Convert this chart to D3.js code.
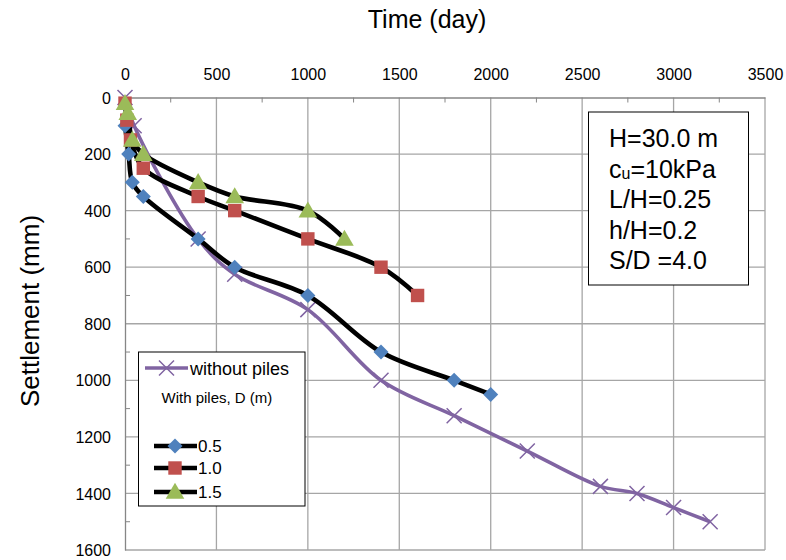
<!DOCTYPE html>
<html><head><meta charset="utf-8">
<script src="https://cdn.jsdelivr.net/npm/d3@7"></script>
<style>
body{margin:0;background:#fff}
svg{display:block}
text{font-family:"Liberation Sans",Arial,sans-serif;fill:#000}
</style>
</head><body>
<svg id="chart" width="786" height="560"></svg>
<script>
// ---- data ----
const xTicks = [0, 500, 1000, 1500, 2000, 2500, 3000, 3500];
const yTicks = [0, 200, 400, 600, 800, 1000, 1200, 1400, 1600];
const xMinor = [250, 750, 1250, 1750, 2250, 2750, 3250];
const yMinor = [100, 300, 500, 700, 900, 1100, 1300, 1500];

const noPilesDays   = [0, 50, 400, 600, 1000, 1400, 1800, 2200, 2600, 2800, 3000, 3200];
const noPilesSettle = [0, 100, 500, 625, 750, 1000, 1125, 1250, 1375, 1400, 1450, 1500];

const d05Days   = [0, 20, 40, 100, 400, 600, 1000, 1400, 1800, 2000];
const d05Settle = [100, 200, 300, 350, 500, 600, 700, 900, 1000, 1050];

const d10Days   = [0, 10, 30, 100, 400, 600, 1000, 1400, 1600];
const d10Settle = [20, 80, 150, 250, 350, 400, 500, 600, 700];

const d15Days   = [0, 15, 40, 100, 400, 600, 1000, 1200];
const d15Settle = [20, 55, 150, 200, 300, 350, 400, 500];

const infoLines = ["H=30.0 m", "cu=10kPa", "L/H=0.25", "h/H=0.2", "S/D =4.0"];
const legendPiles = ["0.5", "1.0", "1.5"];

// ---- chart ----
const svg = d3.select("#chart");
const x = d3.scaleLinear().domain([0, 3500]).range([125, 765]);
const y = d3.scaleLinear().domain([0, 1600]).range([97.5, 550]);

const gridColor = "#a6a6a6";
svg.append("g").selectAll("line").data(xTicks.slice(1)).join("line")
  .attr("x1", d => x(d)).attr("x2", d => x(d))
  .attr("y1", y(0)).attr("y2", y(1600))
  .attr("stroke", gridColor).attr("stroke-width", 1.3);
svg.append("g").selectAll("line").data(yTicks.slice(1)).join("line")
  .attr("x1", x(0)).attr("x2", x(3500))
  .attr("y1", d => y(d)).attr("y2", d => y(d))
  .attr("stroke", gridColor).attr("stroke-width", 1.3);

const xAxis = d3.axisTop(x).tickValues(xTicks).tickSize(0).tickPadding(0).tickFormat(d3.format("d"));
const gx = svg.append("g").attr("transform", `translate(0,${y(0)})`).call(xAxis);
gx.select(".domain").attr("stroke", "#868686").attr("stroke-width", 1.3);
gx.selectAll("text").attr("y", -18).attr("dy", 0).style("font-size", "16px").style("font-family", '"Liberation Sans",Arial,sans-serif');

const yAxis = d3.axisLeft(y).tickValues(yTicks).tickSize(0).tickPadding(0).tickFormat(d3.format("d"));
const gy = svg.append("g").attr("transform", `translate(${x(0)},0)`).call(yAxis);
gy.select(".domain").attr("stroke", "#868686").attr("stroke-width", 1.3);
gy.selectAll("text").attr("x", -14).attr("dy", "0.35em").style("font-size", "16px").style("font-family", '"Liberation Sans",Arial,sans-serif');

svg.append("g").selectAll("line").data(xMinor).join("line")
  .attr("x1", d => x(d)).attr("x2", d => x(d))
  .attr("y1", y(0)).attr("y2", y(0) + 5)
  .attr("stroke", "#868686").attr("stroke-width", 1);
svg.append("g").selectAll("line").data(yMinor).join("line")
  .attr("x1", x(0)).attr("x2", x(0) + 5)
  .attr("y1", d => y(d)).attr("y2", d => y(d))
  .attr("stroke", "#868686").attr("stroke-width", 1);

svg.append("text").attr("x", 427).attr("y", 28).attr("text-anchor", "middle")
  .style("font-size", "25px").text("Time (day)");
svg.append("text").attr("transform", "translate(39,311) rotate(-90)").attr("text-anchor", "middle")
  .style("font-size", "26px").text("Settlement (mm)");

const line = d3.line().x(d => x(d[0])).y(d => y(d[1])).curve(d3.curveCatmullRom.alpha(0.5));
const zip = (a, b) => a.map((v, i) => [v, b[i]]);

const purple = "#8064A2";
const blue = "#4F81BD", red = "#C0504D", green = "#9BBB59";

function xMark(g, cx, cy, s) {
  g.append("path").attr("d", `M${cx - s},${cy - s}L${cx + s},${cy + s}M${cx - s},${cy + s}L${cx + s},${cy - s}`)
    .attr("stroke", purple).attr("stroke-width", 1.5).attr("fill", "none");
}
const sym = {
  diamond: () => "M0,-7.5L7.5,0L0,7.5L-7.5,0Z",
  square: d3.symbol().type(d3.symbolSquare).size(180),
  triangle: d3.symbol().type(d3.symbolTriangle).size(150)
};

const np = zip(noPilesDays, noPilesSettle);
svg.append("path").datum(np).attr("d", line).attr("fill", "none")
  .attr("stroke", purple).attr("stroke-width", 3.6).attr("stroke-linejoin", "round");
const npg = svg.append("g");
np.forEach(p => xMark(npg, x(p[0]), y(p[1]), 7.5));

const series = [
  { d: zip(d05Days, d05Settle), c: blue, s: "diamond" },
  { d: zip(d10Days, d10Settle), c: red, s: "square" },
  { d: zip(d15Days, d15Settle), c: green, s: "triangle" }
];
series.forEach(sr => {
  svg.append("path").datum(sr.d).attr("d", line).attr("fill", "none")
    .attr("stroke", "#000").attr("stroke-width", 4.6).attr("stroke-linejoin", "round");
});
series.forEach(sr => {
  svg.append("g").selectAll("path").data(sr.d).join("path")
    .attr("transform", p => `translate(${x(p[0])},${y(p[1]) + (sr.s === "triangle" ? 1.5 : 0)})`)
    .attr("d", sym[sr.s]).attr("fill", sr.c);
});

const lg = svg.append("g");
lg.append("rect").attr("x", 138.5).attr("y", 352).attr("width", 166.5).attr("height", 154)
  .attr("fill", "#fff").attr("stroke", "#000").attr("stroke-width", 1);
lg.append("line").attr("x1", 145).attr("x2", 188).attr("y1", 368).attr("y2", 368)
  .attr("stroke", purple).attr("stroke-width", 3.6);
xMark(lg, 166.5, 368, 7.5);
lg.append("text").attr("x", 190).attr("y", 374.5).style("font-size", "18px").text("without piles");
lg.append("text").attr("x", 161.5).attr("y", 403).style("font-size", "15px").text("With piles, D (m)");
const lys = [446, 468, 492];
series.forEach((sr, i) => {
  lg.append("line").attr("x1", 154).attr("x2", 197).attr("y1", lys[i]).attr("y2", lys[i])
    .attr("stroke", "#000").attr("stroke-width", 4.6);
  lg.append("path").attr("transform", `translate(175,${lys[i] + (sr.s === "triangle" ? 1.5 : 0)})`)
    .attr("d", sym[sr.s]).attr("fill", sr.c);
  lg.append("text").attr("x", 198).attr("y", lys[i] + 6).style("font-size", "17px").text(legendPiles[i]);
});

const ib = svg.append("g");
ib.append("rect").attr("x", 588.5).attr("y", 112).attr("width", 160).attr("height", 173)
  .attr("fill", "#fff").attr("stroke", "#000").attr("stroke-width", 1);
const baselines = [147, 177.5, 208, 238.5, 268.5];
infoLines.forEach((t, i) => {
  const tx = ib.append("text").attr("x", 609).attr("y", baselines[i]).style("font-size", "25px");
  if (t.startsWith("cu")) {
    tx.append("tspan").text("c");
    tx.append("tspan").style("font-size", "16px").attr("dy", 1).text("u");
    tx.append("tspan").attr("dy", -1).text(t.slice(2));
  } else {
    tx.text(t);
  }
});
</script>
</body></html>
